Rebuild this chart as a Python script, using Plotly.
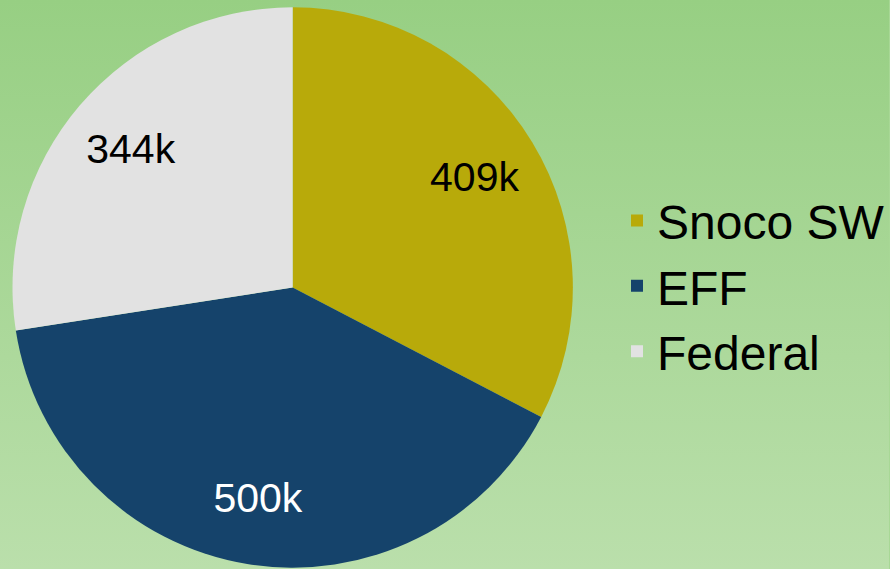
import base64
import plotly.graph_objects as go

labels = ["Snoco SW", "EFF", "Federal"]
values = [409, 500, 344]
colors = ["#b8aa0a", "#15436b", "#e2e2e2"]
text_colors = ["#000000", "#ffffff", "#000000"]

W, H = 890, 569
FONT = "Liberation Sans, Arial, sans-serif"

bg_svg = (
    "<svg xmlns='http://www.w3.org/2000/svg' width='10' height='100' preserveAspectRatio='none'>"
    "<defs><linearGradient id='g' x1='0' y1='0' x2='0' y2='1'>"
    "<stop offset='0' stop-color='#97cf83'/><stop offset='1' stop-color='#badfab'/>"
    "</linearGradient></defs><rect width='10' height='100' fill='url(#g)'/></svg>"
)
bg_src = "data:image/svg+xml;base64," + base64.b64encode(bg_svg.encode()).decode()

domain = dict(x=[12.5 / W, 573.5 / W], y=[1 / H, 562 / H])

fig = go.Figure()
# main slices
fig.add_trace(
    go.Pie(
        labels=labels,
        values=values,
        marker=dict(colors=colors, line=dict(width=0)),
        sort=False,
        direction="clockwise",
        rotation=0,
        textinfo="none",
        domain=domain,
        hoverinfo="label+value",
        showlegend=True,
    )
)
# value labels placed in the outer ring of the slices
fig.add_trace(
    go.Pie(
        labels=labels,
        values=values,
        marker=dict(colors=["rgba(0,0,0,0)"] * len(values), line=dict(width=0)),
        sort=False,
        direction="clockwise",
        rotation=0,
        hole=0.52,
        texttemplate="%{value}k",
        textposition="inside",
        insidetextorientation="horizontal",
        textfont=dict(family=FONT, size=41, color=text_colors),
        domain=domain,
        hoverinfo="skip",
        showlegend=False,
    )
)

fig.update_layout(
    width=W,
    height=H,
    margin=dict(l=0, r=0, t=0, b=0),
    paper_bgcolor="#a8d896",
    plot_bgcolor="rgba(0,0,0,0)",
    showlegend=True,
    legend=dict(
        x=618 / W,
        y=0.497,
        xanchor="left",
        yanchor="middle",
        font=dict(family=FONT, size=48, color="#000000"),
        bgcolor="rgba(0,0,0,0)",
        borderwidth=0,
    ),
    images=[
        dict(
            source=bg_src,
            xref="paper",
            yref="paper",
            x=0,
            y=1,
            sizex=1,
            sizey=1,
            sizing="stretch",
            xanchor="left",
            yanchor="top",
            layer="below",
        )
    ],
)

fig.write_html(
    "out.html",
    config={"displayModeBar": False},
    post_script="document.body.style.margin='0';document.body.style.padding='0';",
)
